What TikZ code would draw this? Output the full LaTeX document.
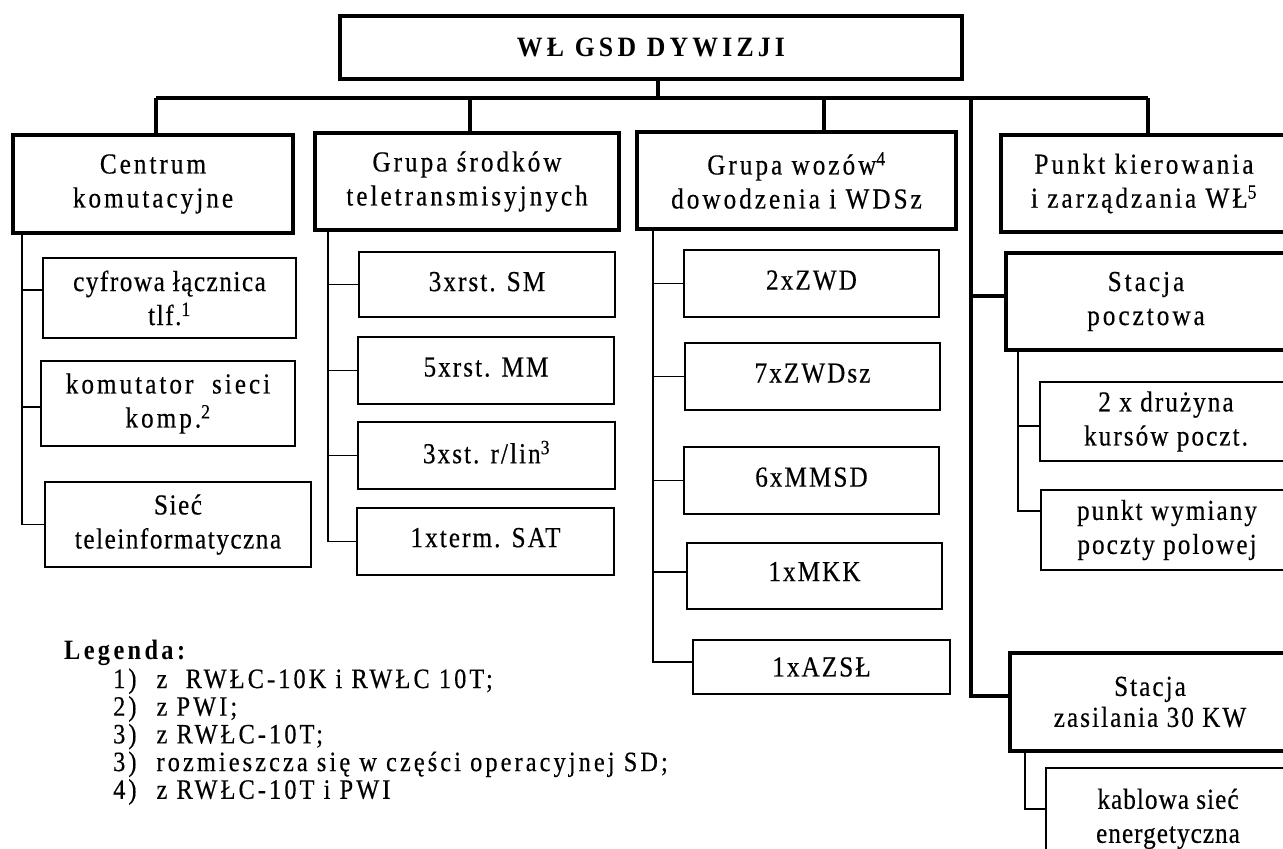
\documentclass[tikz,border=0pt]{standalone}
\usepackage{fontspec}
\setmainfont[FakeStretch=0.87]{Liberation Serif}
\newfontfamily\boxA[FakeStretch=0.87,LetterSpace=10.3,FakeBold=0.4]{Liberation Serif}
\newfontfamily\boxB[FakeStretch=0.87,LetterSpace=7,FakeBold=0.4]{Liberation Serif}
\newfontfamily\boxC[FakeStretch=0.87,LetterSpace=5.2,FakeBold=0.4]{Liberation Serif}
\newfontfamily\boxD[FakeStretch=0.87,LetterSpace=3.5,FakeBold=0.4]{Liberation Serif}
\newfontfamily\titlefont[FakeStretch=0.92,LetterSpace=15]{Liberation Serif}
\newfontfamily\legfont[FakeStretch=0.87,LetterSpace=11,FakeBold=0.4]{Liberation Serif}
\newfontfamily\leghead[FakeStretch=0.87,LetterSpace=12]{Liberation Serif}
\begin{document}
\begin{tikzpicture}[x=1pt,y=-1pt,
  box/.style={draw, line width=1.9pt, inner sep=0pt, align=center,
    font=\boxB\fontsize{29}{34}\selectfont},
  bigbox/.style={box, line width=3.2pt, font=\boxA\fontsize{29}{34}\selectfont},
  conn/.style={line width=1.9pt},
  thickconn/.style={line width=3.2pt},
  spinefour/.style={line width=3.6pt},
]
\useasboundingbox (0,0) rectangle (1283,849);
\fill[white] (0,0) rectangle (1283,849);
\clip (0,0) rectangle (1283,849);

% title
\node[bigbox, minimum width=622pt, minimum height=63pt,
  font=\titlefont\bfseries\fontsize{28}{32}\selectfont] (title) at (651,47.5) {WŁ GSD DYWIZJI};

% level 2
\node[bigbox, minimum width=280pt, minimum height=98pt] (b1) at (153,184) {Centrum\\komutacyjne};
\node[bigbox, minimum width=304pt, minimum height=97pt] (b2) at (467,181.5) {Grupa środków\\teletransmisyjnych};
\node[bigbox, minimum width=319pt, minimum height=97pt] (b3) at (796.5,180.5) {Grupa wozów\textsuperscript{4}\\dowodzenia i WDSz};
\node[bigbox, minimum width=286pt, minimum height=97pt] (b4) at (1144,183.5) {Punkt kierowania\\i zarządzania WŁ\textsuperscript{5}};

% bus
\coordinate (busL) at (156,98);
\coordinate (busR) at (1148,98);
\coordinate (d2) at (470,98);
\coordinate (d3) at (824,98);
\coordinate (s4) at (971,98);
\draw[thickconn] (busL) -- (busR);
\draw[thickconn] ([xshift=7pt]title.south) -- ([xshift=7pt]title.south |- busL);
\draw[thickconn] (busL) -- (busL |- b1.north);
\draw[thickconn] (d2) -- (d2 |- b2.north);
\draw[thickconn] (d3) -- (d3 |- b3.north);
\draw[thickconn] (busR) -- (busR |- b4.north);

% column 1
\node[box, minimum width=253pt, minimum height=80pt, font=\boxC\fontsize{29}{34}\selectfont] (c1a) at (169.5,298) {cyfrowa łącznica\\tlf.\textsuperscript{1}};
\node[box, minimum width=254pt, minimum height=85pt, font=\boxA\fontsize{29}{34}\selectfont] (c1b) at (168,403.5) {komutator\ \ sieci\\komp.\textsuperscript{2}};
\node[box, minimum width=266pt, minimum height=85pt, font=\boxC\fontsize{29}{34}\selectfont] (c1c) at (178,524.5) {Sieć\\teleinformatyczna};
\coordinate (s1) at (22,233);
\draw[conn] (s1) |- (c1c.west);
\draw[conn] (s1 |- c1a.west) ++(0,-8) -- ([yshift=8pt]c1a.west);
\draw[conn] (s1 |- c1b.west) ++(0,3.5) -- ([yshift=-3.5pt]c1b.west);

% column 2
\node[box, minimum width=256pt, minimum height=65pt] (c2a) at (487,284.5) {\raisebox{6pt}{3xrst. SM}};
\node[box, minimum width=256pt, minimum height=67pt] (c2b) at (486,370.5) {\raisebox{7pt}{5xrst. MM}};
\node[box, minimum width=257pt, minimum height=67pt] (c2c) at (486.5,455.5) {\raisebox{7pt}{3xst. r/lin\textsuperscript{3}}};
\node[box, minimum width=257pt, minimum height=67pt] (c2d) at (485.5,541.5) {\raisebox{8pt}{1xterm. SAT}};
\coordinate (s2) at (328,230);
\draw[conn] (s2) |- (c2d.west);
\draw[conn] (s2 |- c2a.west) -- (c2a.west);
\draw[conn] (s2 |- c2b.west) -- (c2b.west);
\draw[conn] (s2 |- c2c.west) -- (c2c.west);

% column 3
\node[box, minimum width=255pt, minimum height=67pt] (c3a) at (811.5,283.5) {\raisebox{7pt}{2xZWD}};
\node[box, minimum width=255pt, minimum height=67pt] (c3b) at (812.5,376.5) {\raisebox{7pt}{7xZWDsz}};
\node[box, minimum width=255pt, minimum height=67pt] (c3c) at (811.5,480.5) {\raisebox{7pt}{6xMMSD}};
\node[box, minimum width=255pt, minimum height=66pt] (c3d) at (814.5,576) {\raisebox{9pt}{1xMKK}};
\node[box, minimum width=257pt, minimum height=54pt] (c3e) at (821.5,667) {1xAZSŁ};
\coordinate (s3) at (653,229);
\draw[conn] (s3) |- ([yshift=5pt]c3e.west);
\draw[conn] (s3 |- c3a.west) -- (c3a.west);
\draw[conn] (s3 |- c3b.west) -- (c3b.west);
\draw[conn] (s3 |- c3c.west) -- (c3c.west);
\draw[conn] (s3 |- c3d.west) ++(0,-4) -- ([yshift=4pt]c3d.west);

% column 4
\node[bigbox, minimum width=280pt, minimum height=97pt] (p4) at (1146,301.5) {Stacja\\pocztowa};
\node[box, minimum width=252pt, minimum height=79pt] (c4a) at (1166,421.5) {2 x drużyna\\kursów poczt.};
\node[box, minimum width=252pt, minimum height=80pt] (c4b) at (1167,530) {punkt wymiany\\poczty polowej};
\node[bigbox, minimum width=280pt, minimum height=98pt, font=\boxB\fontsize{29}{31}\selectfont] (z4) at (1150,702) {Stacja\\zasilania 30 KW};
\node[box, minimum width=244pt, minimum height=102pt, font=\boxD\fontsize{29}{34}\selectfont] (c4c) at (1168,819) {\raisebox{7pt}{\begin{tabular}{@{}c@{}}kablowa sieć\\energetyczna\end{tabular}}};

\draw[spinefour] (s4) |- ([yshift=6pt]z4.west);
\draw[spinefour] (s4 |- p4.west) ++(0,-5.5) -- ([yshift=5.5pt]p4.west);
\coordinate (s5) at (1018,350);
\draw[conn] (s5) |- ([yshift=19pt]c4b.west);
\draw[conn] (s5 |- c4a.west) ++(0,4.5) -- ([yshift=-4.5pt]c4a.west);
\coordinate (s6) at (1025,751);
\draw[conn] (s6) |- ([yshift=10pt]c4c.west);

% legend
\node[anchor=base west, inner sep=0pt, font=\leghead\bfseries\fontsize{28}{28}\selectfont] (legt) at (64,659) {Legenda:};
\node[anchor=base west, inner sep=0pt, font=\legfont\fontsize{28}{27.5}\selectfont] (leg) at (113,688)
  {\begin{tabular}[t]{@{}l@{\hspace{20pt}}l@{}}
   1) & z\ \ RWŁC-10K i RWŁC 10T;\\
   2) & z PWI;\\
   3) & z RWŁC-10T;\\
   3) & rozmieszcza się w części operacyjnej SD;\\
   4) & z RWŁC-10T i PWI
   \end{tabular}};
\end{tikzpicture}
\end{document}
